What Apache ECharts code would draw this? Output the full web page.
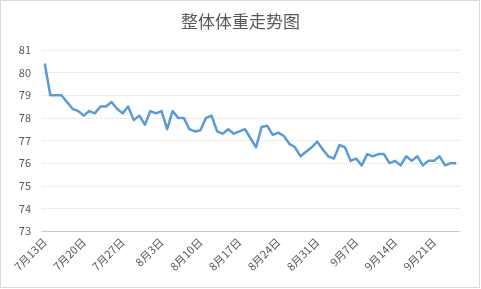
<!DOCTYPE html>
<html>
<head>
<meta charset="utf-8">
<script src="https://cdn.jsdelivr.net/npm/echarts@6/dist/echarts.min.js"></script>
<style>
html,body{margin:0;padding:0;background:#fff;}
#c{width:481px;height:289px;}
</style>
</head>
<body>
<div id="c"></div>
<script>
const title = '整体体重走势图';
const dates = [
'7月13日','7月14日','7月15日','7月16日','7月17日','7月18日','7月19日',
'7月20日','7月21日','7月22日','7月23日','7月24日','7月25日','7月26日',
'7月27日','7月28日','7月29日','7月30日','7月31日','8月1日','8月2日',
'8月3日','8月4日','8月5日','8月6日','8月7日','8月8日','8月9日',
'8月10日','8月11日','8月12日','8月13日','8月14日','8月15日','8月16日',
'8月17日','8月18日','8月19日','8月20日','8月21日','8月22日','8月23日',
'8月24日','8月25日','8月26日','8月27日','8月28日','8月29日','8月30日',
'8月31日','9月1日','9月2日','9月3日','9月4日','9月5日','9月6日',
'9月7日','9月8日','9月9日','9月10日','9月11日','9月12日','9月13日',
'9月14日','9月15日','9月16日','9月17日','9月18日','9月19日','9月20日',
'9月21日','9月22日','9月23日','9月24日','9月25日'
];
const weight = [
80.4,79.0,79.0,79.0,78.7,78.4,78.3,
78.1,78.3,78.2,78.5,78.5,78.7,78.4,
78.2,78.5,77.9,78.1,77.7,78.3,78.2,
78.3,77.5,78.3,78.0,78.0,77.5,77.4,
77.45,78.0,78.1,77.4,77.3,77.5,77.3,
77.4,77.5,77.1,76.7,77.6,77.65,77.25,
77.35,77.2,76.85,76.7,76.3,76.5,76.7,
76.95,76.6,76.3,76.2,76.8,76.7,76.1,
76.2,75.9,76.4,76.3,76.4,76.4,76.0,
76.1,75.9,76.3,76.1,76.3,75.9,76.1,
76.1,76.3,75.9,76.0,76.0
];
const yMin = 73, yMax = 81, yStep = 1;

const chart = echarts.init(document.getElementById('c'), null, {renderer:'canvas'});
const font = '"Noto Sans CJK SC", sans-serif';
chart.setOption({
  animation:false,
  backgroundColor:'#fff',
  graphic:[{type:'rect', shape:{x:0.5,y:0.5,width:479,height:287}, style:{fill:'none', stroke:'#d9d9d9', lineWidth:1}, silent:true}],
  title:{text:title, left:'center', top:8, textStyle:{fontFamily:font, fontSize:17, fontWeight:'normal', color:'#595959'}},
  grid:{left:42, right:22, top:50, bottom:58},
  xAxis:{
    type:'category', data:dates, boundaryGap:true,
    axisLine:{lineStyle:{color:'#bfbfbf', type:'dotted'}},
    axisTick:{interval:6, length:4, lineStyle:{color:'#bfbfbf'}},
    axisLabel:{interval:6, rotate:45, fontFamily:font, fontSize:11, color:'#595959', margin:9}
  },
  yAxis:{
    type:'value', min:yMin, max:yMax, interval:yStep,
    axisLine:{show:false}, axisTick:{show:false},
    axisLabel:{fontFamily:font, fontSize:11, color:'#595959', margin:11},
    splitLine:{lineStyle:{color:'#d9d9d9', type:'dotted'}}
  },
  series:[{
    type:'line', data:weight, symbol:'none', smooth:false,
    lineStyle:{color:'#5B9BD5', width:2.5, join:'round'}
  }]
});
</script>
</body>
</html>
